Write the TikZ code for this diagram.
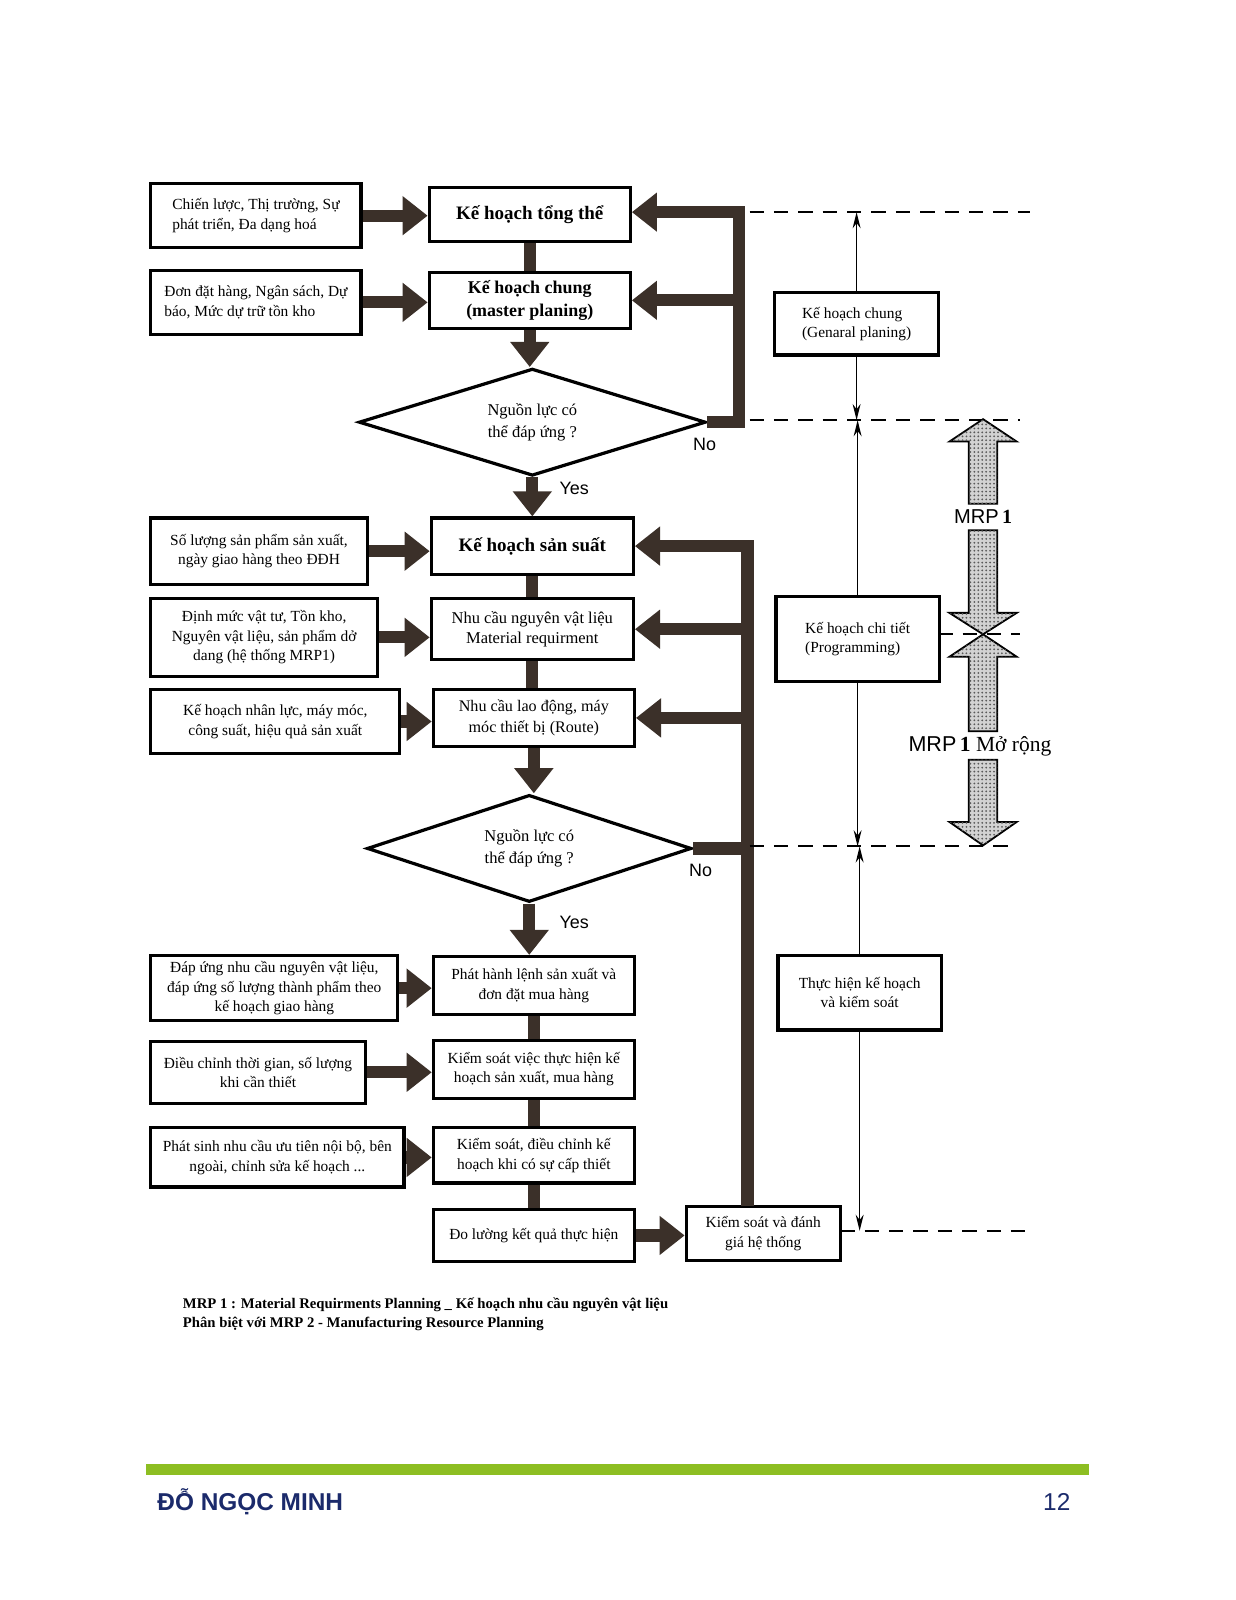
\documentclass[tikz,border=0pt]{standalone}
\usepackage{fontspec}
\setmainfont{Liberation Serif}
\setsansfont{Liberation Sans}
\usetikzlibrary{arrows.meta,shapes.geometric,patterns.meta}
\definecolor{flow}{HTML}{3B3029}
\definecolor{barGreen}{HTML}{8DBE22}
\definecolor{navy}{HTML}{1B2A6B}
\tikzset{
  box/.style={draw=black,line width=0.9pt,fill=white,inner sep=1pt,align=center,font=\fontsize{4.3}{5.4}\selectfont},
  headbox/.style={box,font=\fontsize{5.3}{6.6}\selectfont\bfseries},
  ask/.style={shape=diamond,aspect=3,draw=black,line width=0.9pt,fill=white,inner sep=0pt,align=center,font=\fontsize{4.6}{6.2}\selectfont},
  flowline/.style={draw=flow,line width=3.4pt,line join=miter},
  flowarrow/.style={flowline,-{Triangle[width=10.5pt,length=7pt]}},
  span/.style={dash pattern=on 4pt off 2.8pt,line width=0.55pt},
  gauge/.style={line width=0.45pt,-{Stealth[length=4.5pt,width=2.2pt]}},
  tag/.style={font=\sffamily\fontsize{5}{6}\selectfont},
  mrp/.style={draw=black,line width=0.5pt,fill=gray!35,postaction={pattern={Dots[distance=1.1pt,radius=0.28pt]},pattern color=black!65}}
}
\begin{document}
\begin{tikzpicture}[x=0.01cm,y=-0.01cm]
        \fill[white] (0,0) rectangle (1212,1569);
        \useasboundingbox (0,0) rectangle (1212,1569);

        \node[box,align=left,minimum width=2.06cm,minimum height=0.63cm] (strat) at (251,211.5) {Chiến lược, Thị trường, Sự\\phát triển, Đa dạng hoá};
        \node[box,align=left,minimum width=2.06cm,minimum height=0.63cm] (orders) at (251,296.5) {Đơn đặt hàng, Ngân sách, Dự\\báo, Mức dự trữ tồn kho};
        \node[box,minimum width=2.12cm,minimum height=0.65cm] (qty) at (254,540.5) {Số lượng sản phẩm sản xuất,\\ngày giao hàng theo ĐĐH};
        \node[box,minimum width=2.22cm,minimum height=0.76cm] (norms) at (259,625) {Định mức vật tư, Tồn kho,\\Nguyên vật liệu, sản phẩm dở\\dang (hệ thống MRP1)};
        \node[box,minimum width=2.44cm,minimum height=0.63cm] (labour) at (270,707.5) {Kế hoạch nhân lực, máy móc,\\công suất, hiệu quả sản xuất};
        \node[box,minimum width=2.42cm,minimum height=0.64cm] (meet) at (269,969) {Đáp ứng nhu cầu nguyên vật liệu,\\đáp ứng số lượng thành phẩm theo\\kế hoạch giao hàng};
        \node[box,minimum width=2.10cm,minimum height=0.61cm] (adjust) at (253,1051.5) {Điều chỉnh thời gian, số lượng\\khi cần thiết};
        \node[box,minimum width=2.48cm,minimum height=0.58cm] (prio) at (272,1135) {Phát sinh nhu cầu ưu tiên nội bộ, bên\\ngoài, chỉnh sửa kế hoạch ...};

        \node[headbox,minimum width=1.97cm,minimum height=0.53cm] (overall) at (519.5,210.5) {Kế hoạch tổng thể};
        \node[headbox,font=\fontsize{5}{6.4}\selectfont\bfseries,minimum width=1.97cm,minimum height=0.55cm] (master) at (519.5,294.5) {Kế hoạch chung\\(master planing)};
        \node[ask,minimum width=3.40cm,minimum height=1.05cm] (check1) at (522,414) {Nguồn lực có\\thể đáp ứng ?};
        \node[headbox,minimum width=1.98cm,minimum height=0.55cm] (prod) at (522,535.5) {Kế hoạch sản suất};
        \node[box,font=\fontsize{4.6}{5.8}\selectfont,minimum width=1.98cm,minimum height=0.60cm] (mat) at (522,617) {Nhu cầu nguyên vật liệu\\Material requirment};
        \node[box,font=\fontsize{4.5}{5.8}\selectfont,minimum width=1.97cm,minimum height=0.56cm] (route) at (523.5,704) {Nhu cầu lao động, máy\\móc thiết bị (Route)};
        \node[ask,minimum width=3.18cm,minimum height=1.05cm] (check2) at (519,832) {Nguồn lực có\\thể đáp ứng ?};
        \node[box,minimum width=1.97cm,minimum height=0.57cm] (release) at (523.5,966.5) {Phát hành lệnh sản xuất và\\đơn đặt mua hàng};
        \node[box,minimum width=1.97cm,minimum height=0.57cm] (ctrl) at (523.5,1048.5) {Kiểm soát việc thực hiện kế\\hoạch sản xuất, mua hàng};
        \node[box,minimum width=1.97cm,minimum height=0.54cm] (fix) at (523.5,1133) {Kiểm soát, điều chỉnh kế\\hoạch khi có sự cấp thiết};
        \node[box,minimum width=1.97cm,minimum height=0.51cm] (measure) at (523.5,1211.5) {Đo lường kết quả thực hiện};
        \node[box,minimum width=1.51cm,minimum height=0.53cm] (review) at (748.5,1209.5) {Kiểm soát và đánh\\giá hệ thống};

        \node[box,align=left,minimum width=1.61cm,minimum height=0.61cm] (general) at (840,317.5) {Kế hoạch chung\\(Genaral planing)};
        \node[box,align=left,minimum width=1.60cm,minimum height=0.83cm] (detail) at (841,626.5) {Kế hoạch chi tiết\\(Programming)};
        \node[box,minimum width=1.60cm,minimum height=0.73cm] (exec) at (843,973.5) {Thực hiện kế hoạch\\và kiểm soát};

        \coordinate (loop) at (725,208);
        \coordinate (ret) at (733,1183);
        \coordinate (lvA) at (735,208);  \coordinate (lvA') at (1010,208);
        \coordinate (lvB) at (735,412);  \coordinate (lvB') at (1000,412);
        \coordinate (lvC) at (920,622);  \coordinate (lvC') at (1000,622);
        \coordinate (lvD) at (735,830);  \coordinate (lvD') at (990,830);
        \coordinate (lvE) at (824,1207); \coordinate (lvE') at (1010,1207);

	\draw[flowarrow] (strat.east) -- (strat.east -| overall.west);
	\draw[flowarrow] (orders.east) -- (orders.east -| master.west);
	\draw[flowarrow] (qty.east) -- (qty.east -| prod.west);
	\draw[flowarrow] (norms.east) -- (norms.east -| mat.west);
	\draw[flowarrow] (labour.east) -- (labour.east -| route.west);
	\draw[flowarrow] (meet.east) -- (meet.east -| release.west);
	\draw[flowarrow] (adjust.east) -- (adjust.east -| ctrl.west);
	\draw[flowarrow] (prio.east) -- (prio.east -| fix.west);
	\draw[flowarrow] (measure.east) -- (measure.east -| review.west);

	\draw[flowline] (overall.south) -- (master.north);
	\draw[flowarrow] (master.south) -- (master.south |- check1.north);
	\draw[flowarrow] (check1.south) -- (check1.south |- prod.north);
	\draw[flowline] (prod.south) -- (prod.south |- mat.north);
	\draw[flowline] (mat.south) -- (mat.south |- route.north);
	\draw[flowarrow] (route.south) -- (route.south |- check2.north);
	\draw[flowarrow] (check2.south) -- (check2.south |- release.north);
	\draw[flowline] (release.south) -- (ctrl.north);
	\draw[flowline] (ctrl.south) -- (fix.north);
	\draw[flowline] (fix.south) -- (measure.north);

	\draw[flowarrow] (check1.east) -| (loop) -- (loop -| overall.east);
	\draw[flowarrow] (loop |- master.east) -- (master.east);
	\draw[flowarrow] (ret) |- (prod.east);
	\draw[flowarrow] (ret |- mat.east) -- (mat.east);
	\draw[flowarrow] (ret |- route.east) -- (route.east);
	\draw[flowline] (check2.east) -- (check2.east -| ret);

	\node[tag] (no1) at (691,436) {No};
	\node[tag] (yes1) at (563,479) {Yes};
	\node[tag] (no2) at (687,854) {No};
	\node[tag] (yes2) at (563,905) {Yes};

	\draw[span] (lvA) -- (lvA');
	\draw[span] (lvB) -- (lvB');
	\draw[span] (lvC) -- (lvC');
	\draw[span] (lvD) -- (lvD');
	\draw[span] (lvE) -- (lvE');

	\draw[gauge] (general.north) -- (general.north |- lvA);
	\draw[gauge] (general.south) -- (general.south |- lvB);
	\draw[gauge] (detail.north) -- (detail.north |- lvB);
	\draw[gauge] (detail.south) -- (detail.south |- lvD);
	\draw[gauge] (exec.north) -- (exec.north |- lvD);
	\draw[gauge] (exec.south) -- (exec.south |- lvE);

	\draw[mrp] (964,411) -- (997,433) -- (978,433) -- (978,494) -- (950,494) -- (950,433) -- (931,433) -- cycle;
	\draw[mrp] (950,520) -- (978,520) -- (978,601) -- (997,601) -- (964,622) -- (931,601) -- (950,601) -- cycle;
	\draw[mrp] (964,622) -- (997,644) -- (978,644) -- (978,717) -- (950,717) -- (950,644) -- (931,644) -- cycle;
	\draw[mrp] (950,745) -- (978,745) -- (978,806) -- (997,806) -- (964,829) -- (931,806) -- (950,806) -- cycle;
	\node[font=\fontsize{5.6}{6.6}\selectfont] (mrp1) at (964,507) {\sffamily MRP\,\rmfamily\bfseries 1};
	\node[font=\fontsize{6}{7}\selectfont] (mrp1x) at (961,732) {\sffamily MRP\,\rmfamily\bfseries 1 \mdseries Mở rộng};

	\node[anchor=west,align=left,font=\fontsize{4.1}{5.4}\selectfont\bfseries] (note) at (167,1289) {MRP 1 : Material Requirments Planning \_ Kế hoạch nhu cầu nguyên vật liệu\\Phân biệt với MRP 2 - Manufacturing Resource Planning};

	\fill[barGreen] (143,1436) rectangle (1068,1446);
	\node[anchor=west,text=navy,font=\sffamily\bfseries\fontsize{6.8}{8}\selectfont] (author) at (142,1473) {ĐỖ NGỌC MINH};
	\node[anchor=east,text=navy,font=\sffamily\fontsize{6.8}{8}\selectfont] (page) at (1062,1473) {12};
\end{tikzpicture}
\end{document}
